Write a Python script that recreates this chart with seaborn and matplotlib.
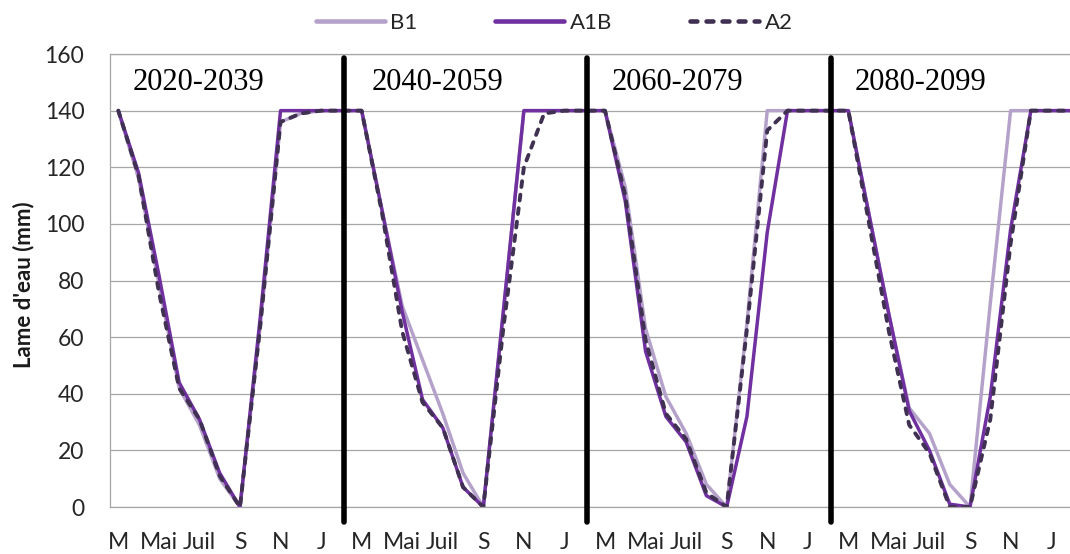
import pandas as pd
import matplotlib.pyplot as plt
import seaborn as sns

# mois de mars à février, 4 périodes de 20 ans mises bout à bout
months = ["M", "A", "Mai", "Juin", "Juil", "Août", "S", "O", "N", "D", "J", "F"]
periods = ["2020-2039", "2040-2059", "2060-2079", "2080-2099"]
scenarios = ["B1", "A1B", "A2"]
colors = {"B1": "#b5a2ca", "A1B": "#7030a0", "A2": "#403152"}

# lame d'eau (mm), 12 mois x 4 périodes
b1 = [140, 116, 79, 42, 29, 10, 0, 64, 136, 139, 140, 140,
      140, 105, 71, 52, 33, 12, 0, 70, 140, 140, 140, 140,
      140, 113, 63, 39, 26, 8, 0, 65, 140, 140, 140, 140,
      140, 104, 68, 35, 26, 8, 0, 72, 140, 140, 140, 140]
a1b = [140, 118, 82, 44, 31, 12, 0, 67, 140, 140, 140, 140,
       140, 105, 69, 38, 28, 7, 0, 70, 140, 140, 140, 140,
       140, 108, 55, 32, 23, 4, 0, 32, 97, 140, 140, 140,
       140, 104, 68, 34, 20, 1, 0, 39, 98, 140, 140, 140]
a2 = [140, 117, 76, 42, 31, 11, 0, 64, 136, 139, 140, 140,
      140, 104, 62, 37, 28, 7, 0, 64, 120, 139, 140, 140,
      140, 110, 59, 33, 24, 5, 0, 63, 133, 140, 140, 140,
      140, 101, 62, 29, 19, 0, 0, 31, 93, 140, 140, 140]

series = {"B1": b1, "A1B": a1b, "A2": a2}
n = len(b1)
idx = list(range(n))

sns.set_theme(style="white")
plt.rcParams["font.family"] = ["Lato", "DejaVu Sans"]

fig = plt.figure(figsize=(10.7, 5.54), dpi=100)
ax = fig.add_axes([0.1028, 0.0848, 0.8972, 0.8177])

for name in scenarios:
    sns.lineplot(x=idx, y=series[name], color=colors[name], lw=2.5, ax=ax, label=name)
    line = ax.lines[-1]
    line.set_solid_joinstyle("round")
    if name == "A2":
        line.set_dashes([1.5, 2.0])
        line.set_dash_capstyle("round")
        line.set_lw(2.8)

handles, labels = ax.get_legend_handles_labels()
ax.get_legend().remove()
leg = fig.legend(handles, labels, loc="center", bbox_to_anchor=(0.518, 0.959), ncol=3,
                 frameon=False, fontsize=16, handlelength=3.1, handletextpad=0.25,
                 columnspacing=3.5)
for h in leg.get_lines():
    h.set_linewidth(3.3)
    h.set_solid_capstyle("round")

ax.set_xlim(-0.41, 46.93)
ax.set_ylim(0, 160)
ax.set_yticks(range(0, 161, 20))
ax.set_xticks(idx[::2])
ax.set_xticklabels(months[::2] * len(periods))
ax.tick_params(axis="both", length=0, labelsize=16.5, labelcolor="#262626")
ax.tick_params(axis="y", pad=18.5)
ax.tick_params(axis="x", pad=18)

ax.yaxis.grid(True, color="#a6a6a6", lw=0.9)
ax.xaxis.grid(False)
ax.set_axisbelow(True)
for side in ["left", "top", "bottom"]:
    ax.spines[side].set_color("#a6a6a6")
    ax.spines[side].set_linewidth(0.9)
ax.spines["right"].set_visible(False)

ax.set_xlabel("")
ax.set_ylabel("Lame d'eau (mm)", fontsize=16, fontweight="bold", va="center", color="#1a1a1a")
ax.yaxis.set_label_coords(-0.0906, 0.49)

# séparateurs entre périodes et titres
for k in range(1, len(periods)):
    sep = 12 * k - 0.88
    ax.plot([sep, sep], [-5.3, 158.6], color="black", lw=4, clip_on=False, zorder=5)

text_x = [0.72, 12.5, 24.35, 36.3]
for tx, p in zip(text_x, periods):
    ax.text(tx, 150, p, fontfamily="Liberation Serif", fontsize=22, va="center",
            ha="left", color="black")

plt.savefig("out.png", dpi=100)
plt.close()
